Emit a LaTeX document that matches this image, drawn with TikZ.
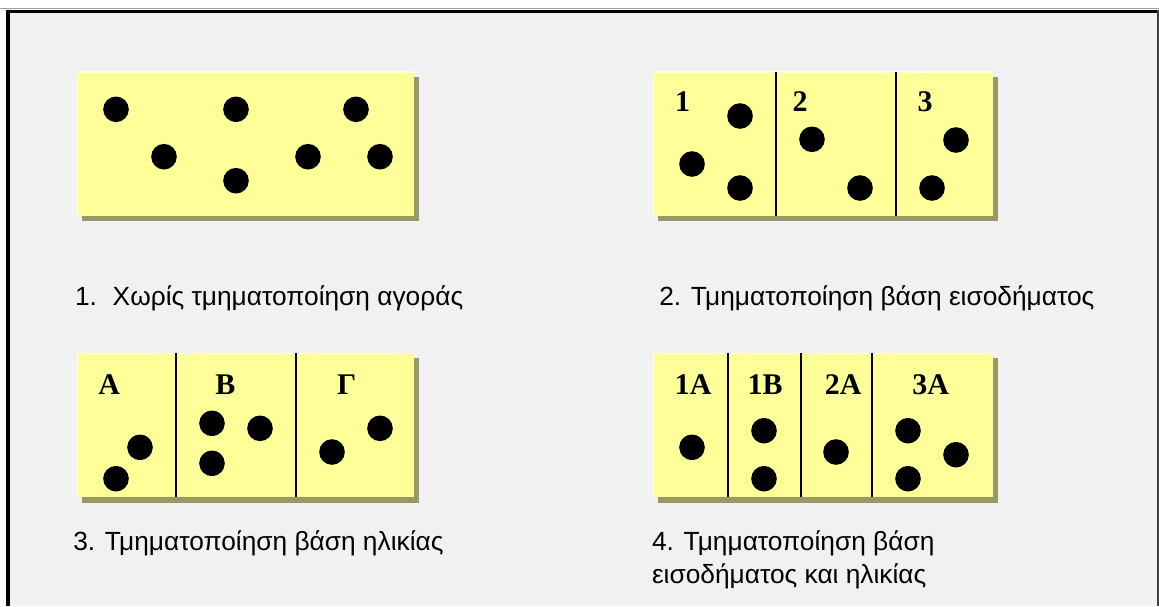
\documentclass[tikz,border=0pt]{standalone}
\usepackage{fontspec}
\setmainfont{Liberation Serif}
\setsansfont{Liberation Sans}
\definecolor{panelbg}{RGB}{241,241,241}
\definecolor{segfill}{RGB}{255,255,153}
\definecolor{segshade}{RGB}{153,153,102}
\definecolor{seglight}{RGB}{255,255,215}
\definecolor{framegray}{RGB}{160,160,160}
\tikzset{
  segbox/.style={fill=segfill,draw=none},
  segshadow/.style={fill=segshade,draw=none},
  seglight/.style={draw=seglight,line width=1.5pt},
  segline/.style={draw=black,line width=1.6pt},
  buyer/.style={circle,fill=black,draw=none,inner sep=0pt,outer sep=0pt,minimum size=25.6pt},
  seglabel/.style={inner sep=0pt,outer sep=0pt,anchor=base,font=\rmfamily\bfseries\fontsize{30}{32}\selectfont},
  caption/.style={inner sep=0pt,outer sep=0pt,anchor=base west,font=\sffamily\fontsize{26.3}{33}\selectfont},
}
\begin{document}
\begin{tikzpicture}[x=1pt,y=-1pt]
\path[use as bounding box] (0,0) rectangle (1159,606);
\path[fill=white,draw=none] (0,0) rectangle (1159,606);
% frame
\path[fill=panelbg,draw=none] (6,9.5) rectangle (1159,606);
\draw[framegray,line width=1.5pt] (0,8.3) -- (1159,8.3);
\draw[black,line width=3pt] (6,11) -- (1158,11);
\draw[black,line width=4pt] (8,9.5) -- (8,606);
\draw[black!75,line width=1.8pt] (1158.2,9.5) -- (1158.2,606);
% 1. no segmentation
\path[segshadow] (82,77) rectangle (418.5,221);
\path[segbox] (77.3,72) rectangle (414,216);
\draw[seglight] (77.3,216) -- (77.3,72) -- (414,72);
\node[buyer] (m1) at (116,109.3) {};
\node[buyer] (m2) at (164,156.7) {};
\node[buyer] (m3) at (236,109.3) {};
\node[buyer] (m4) at (236,180.7) {};
\node[buyer] (m5) at (308,156.7) {};
\node[buyer] (m6) at (356,109.3) {};
\node[buyer] (m7) at (380,156.7) {};
\node[caption] (cap1) at (75,305) {1.\hspace{0.6em}Χωρίς τμηματοποίηση αγοράς};
% 2. income
\path[segshadow] (658,77) rectangle (997.5,221);
\path[segbox] (653.3,72) rectangle (992.7,216);
\draw[seglight] (653.3,216) -- (653.3,72) -- (992.7,72);
\draw[segline] (776,72) -- (776,216);
\draw[segline] (896,72) -- (896,216);
\node[seglabel] (i1) at (682.7,111.7) {1};
\node[seglabel] (i2) at (800,111.7) {2};
\node[seglabel] (i3) at (925,111.7) {3};
\node[buyer] (n1) at (740,116) {};
\node[buyer] (n2) at (692,164) {};
\node[buyer] (n3) at (740,188) {};
\node[buyer] (n4) at (812,139.3) {};
\node[buyer] (n5) at (860,188) {};
\node[buyer] (n6) at (956,140) {};
\node[buyer] (n7) at (932,188) {};
\node[caption] (cap2) at (659.3,305) {2. Τμηματοποίηση βάση εισοδήματος};
% 3. age
\path[segshadow] (82,358.3) rectangle (418.5,502.7);
\path[segbox] (77.3,353.3) rectangle (414,497.3);
\draw[seglight] (77.3,497.3) -- (77.3,353.3) -- (414,353.3);
\draw[segline] (176,353.3) -- (176,497.3);
\draw[segline] (296,353.3) -- (296,497.3);
\node[seglabel] (a1) at (109.3,394.5) {Α};
\node[seglabel] (a2) at (225.3,394.5) {Β};
\node[seglabel] (a3) at (346.7,394.5) {Γ};
\node[buyer] (p1) at (140,447.3) {};
\node[buyer] (p2) at (116,478.7) {};
\node[buyer] (p3) at (212,423.3) {};
\node[buyer] (p4) at (260,428.3) {};
\node[buyer] (p5) at (212,463.3) {};
\node[buyer] (p6) at (380,428.3) {};
\node[buyer] (p7) at (332,452) {};
\node[caption] (cap3) at (73.3,550.7) {3. Τμηματοποίηση βάση ηλικίας};
% 4. income and age
\path[segshadow] (658,358.3) rectangle (997.5,502.7);
\path[segbox] (653.3,353.3) rectangle (992.7,497.3);
\draw[seglight] (653.3,497.3) -- (653.3,353.3) -- (992.7,353.3);
\draw[segline] (728,353.3) -- (728,497.3);
\draw[segline] (800.7,353.3) -- (800.7,497.3);
\draw[segline] (872,353.3) -- (872,497.3);
\node[seglabel] (b1) at (693.3,394.5) {1Α};
\node[seglabel] (b2) at (765,394.5) {1Β};
\node[seglabel] (b3) at (843.3,394.5) {2Α};
\node[seglabel] (b4) at (930.7,394.5) {3Α};
\node[buyer] (q1) at (692,447.3) {};
\node[buyer] (q2) at (764,430.7) {};
\node[buyer] (q3) at (764,478.7) {};
\node[buyer] (q4) at (836,452) {};
\node[buyer] (q5) at (908,430.7) {};
\node[buyer] (q6) at (908,478.7) {};
\node[buyer] (q7) at (956,454.7) {};
\node[caption] (cap4) at (652,550.7) {4. Τμηματοποίηση βάση};
\node[caption] (cap4b) at (652,583.5) {εισοδήματος και ηλικίας};
\end{tikzpicture}
\end{document}
